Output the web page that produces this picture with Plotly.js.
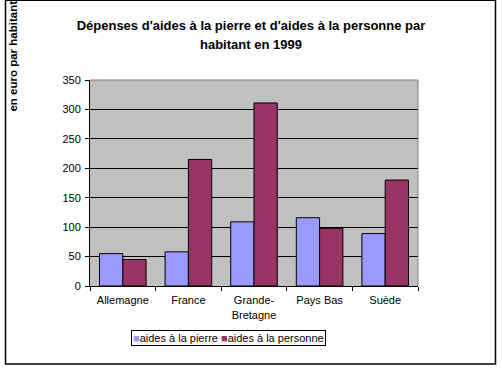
<!DOCTYPE html>
<html>
<head>
<meta charset="utf-8">
<script src="https://cdn.plot.ly/plotly-3.0.1.min.js"></script>
<style>html,body{margin:0;padding:0;background:#fff;}#chart{width:502px;height:370px;}</style>
</head>
<body>
<div id="chart"></div>
<script>
const categories = ["Allemagne", "France", "Grande-<br>Bretagne", "Pays Bas", "Suède"];
const seriesNames = ["aides à la pierre", "aides à la personne"];
const pierre = [55, 58, 109, 116, 89];
const personne = [45, 215, 311, 98, 180];
const seriesColors = ["#9999FF", "#993366"];
const yTicks = [0, 50, 100, 150, 200, 250, 300, 350];
const titleLines = ["Dépenses d'aides à la pierre et d'aides à la personne par", "habitant en 1999"];
const yTitleText = "en euro par habitant";

const FONT = '"Liberation Sans", Arial, sans-serif';
const W = 502, H = 370;
const L = 90, R = 418, T = 80, B = 285.67;
const pw = R - L, ph = B - T;
const px = v => (v - L) / pw;
const py = v => (B - v) / ph;

const traces = [pierre, personne].map((vals, i) => ({
  type: 'bar',
  name: seriesNames[i],
  x: categories,
  y: vals,
  marker: {color: seriesColors[i], line: {color: '#000', width: 1}},
  showlegend: false,
  hoverinfo: 'none'
}));

const legendText = seriesNames.map((n, i) =>
  '<span style="color:' + seriesColors[i] + '">■</span>' + n).join(' ');

const titleFont = {family: FONT, size: 13, color: '#000'};

const layout = {
  width: W, height: H,
  margin: {l: L, r: W - R, t: T, b: H - B, pad: 0},
  paper_bgcolor: '#fff',
  plot_bgcolor: '#C0C0C0',
  font: {family: FONT, size: 11, color: '#000'},
  barmode: 'group',
  bargap: 0.29,
  bargroupgap: 0,
  title: {
    text: '<b>' + titleLines[0] + '</b>',
    font: titleFont,
    xref: 'container', x: 0.5, xanchor: 'center',
    yref: 'container', y: 1 - 25 / H, yanchor: 'middle'
  },
  xaxis: {
    type: 'category',
    showline: true, linecolor: '#000', linewidth: 1,
    ticks: 'outside', ticklen: 4, tickcolor: '#000', tickson: 'boundaries',
    ticklabelstandoff: 4,
    showgrid: false, zeroline: false,
    tickfont: {family: FONT, size: 11, color: '#000'},
    fixedrange: true
  },
  yaxis: {
    range: [0, 350],
    tickvals: yTicks,
    showline: true, linecolor: '#000', linewidth: 1,
    ticks: 'outside', ticklen: 4, tickcolor: '#000',
    ticklabelstandoff: 2,
    showgrid: true, gridcolor: '#000', gridwidth: 1,
    zeroline: false,
    tickfont: {family: FONT, size: 11, color: '#000'},
    fixedrange: true
  },
  shapes: [
    {type: 'line', xref: 'paper', yref: 'paper', x0: 0, x1: 1, y0: 1, y1: 1, line: {color: '#808080', width: 1}},
    {type: 'line', xref: 'paper', yref: 'paper', x0: 1, x1: 1, y0: 0, y1: 1, line: {color: '#808080', width: 1}},
    {type: 'rect', xref: 'paper', yref: 'paper',
     x0: px(5.5), x1: px(495.5), y0: py(363.5), y1: py(0.5),
     line: {color: '#000', width: 1.5}}
  ],
  annotations: [
    {
      text: '<b>' + titleLines[1] + '</b>',
      xref: 'paper', yref: 'paper',
      x: px(251), y: py(45),
      xanchor: 'center', yanchor: 'middle',
      showarrow: false,
      font: titleFont
    },
    {
      text: '<b>' + yTitleText + '</b>',
      textangle: -90,
      xref: 'paper', yref: 'paper',
      x: px(13), y: py(114),
      xanchor: 'center', yanchor: 'bottom',
      showarrow: false,
      font: {family: FONT, size: 11.5, color: '#000'}
    },
    {
      text: legendText,
      xref: 'paper', yref: 'paper',
      x: px(131), y: py(330),
      xanchor: 'left', yanchor: 'top',
      showarrow: false,
      bordercolor: '#000', borderwidth: 1, borderpad: 1,
      font: {family: FONT, size: 11, color: '#000'}
    }
  ]
};

Plotly.newPlot('chart', traces, layout, {displayModeBar: false, staticPlot: true});
</script>
</body>
</html>
